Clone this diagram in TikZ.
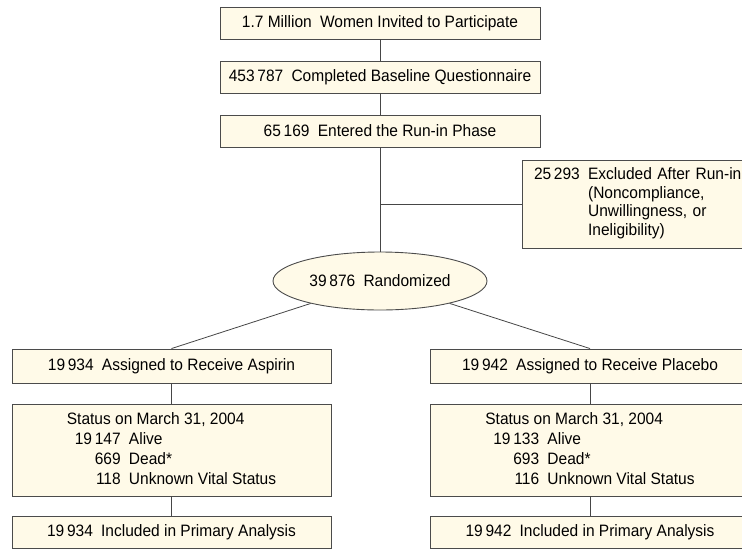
\documentclass[tikz,border=0pt]{standalone}
\usepackage{fontspec}
\setmainfont{Liberation Sans}[FakeStretch=0.94]
\usetikzlibrary{shapes.geometric}
\definecolor{boxfill}{RGB}{255,250,232}
\definecolor{boxline}{RGB}{75,75,75}
\definecolor{conline}{RGB}{70,70,70}
\newcommand{\numgap}{\hspace{0.5em}}
\begin{document}
\begin{tikzpicture}[x=1pt,y=-1pt,
  txt/.style={font=\fontsize{16.5}{19}\selectfont},
  flowbox/.style={draw=boxline, fill=boxfill, line width=0.9pt, inner sep=0pt, txt},
  wide/.style={flowbox, minimum width=320pt, minimum height=32pt},
  branch/.style={flowbox, minimum width=319pt, minimum height=34pt},
  status/.style={flowbox, minimum width=319pt, minimum height=92pt, font=\fontsize{16.5}{20}\selectfont},
  final/.style={flowbox, minimum width=319pt, minimum height=32pt},
  conn/.style={draw=conline, line width=0.8pt}]
\clip (0,0) rectangle (742,550);
\useasboundingbox (0,0) rectangle (742,550);

\node[wide] (inv) at (380,23) {1.7 Million\numgap Women Invited to Participate};
\node[wide] (base) at (380,77) {453\,787\numgap Completed Baseline Questionnaire};
\node[wide] (run) at (380,131) {65\,169\numgap Entered the Run-in Phase};

\node[flowbox, minimum width=225pt, minimum height=88pt, text width=201pt,
      inner xsep=12pt, align=left, font=\fontsize{16.5}{18.5}\selectfont] (excl) at (634.5,204)
  {\begin{tabular}{@{}l@{\numgap}l@{}}25\,293 & Excluded After Run-in\\ & (Noncompliance,\\ & Unwillingness, or\\ & Ineligibility)\end{tabular}};

\node[flowbox, ellipse, minimum width=214pt, minimum height=58pt] (rand) at (380,281) {39\,876\numgap Randomized};

\node[branch] (asp) at (171.5,366) {19\,934\numgap Assigned to Receive Aspirin};
\node[branch] (plc) at (590,366) {19\,942\numgap Assigned to Receive Placebo};

\node[status] (stA) at (171.5,450)
  {\begin{tabular}{@{\hspace{8pt}}r@{\numgap}l@{}}\multicolumn{2}{@{}l@{}}{Status on March 31, 2004}\\ 19\,147 & Alive\\ 669 & Dead*\\ 118 & Unknown Vital Status\end{tabular}};
\node[status] (stP) at (590,450)
  {\begin{tabular}{@{\hspace{8pt}}r@{\numgap}l@{}}\multicolumn{2}{@{}l@{}}{Status on March 31, 2004}\\ 19\,133 & Alive\\ 693 & Dead*\\ 116 & Unknown Vital Status\end{tabular}};

\node[final] (incA) at (171.5,532) {19\,934\numgap Included in Primary Analysis};
\node[final] (incP) at (590,532) {19\,942\numgap Included in Primary Analysis};

\draw[conn] (inv) -- (base);
\draw[conn] (base) -- (run);
\draw[conn] (run) -- (rand);
\draw[conn] (excl.west) -- (excl.west -| run.south);
\draw[conn] (asp.north) -- (rand);
\draw[conn] (plc.north) -- (rand);
\draw[conn] (asp) -- (stA);
\draw[conn] (stA) -- (incA);
\draw[conn] (plc) -- (stP);
\draw[conn] (stP) -- (incP);
\end{tikzpicture}
\end{document}
